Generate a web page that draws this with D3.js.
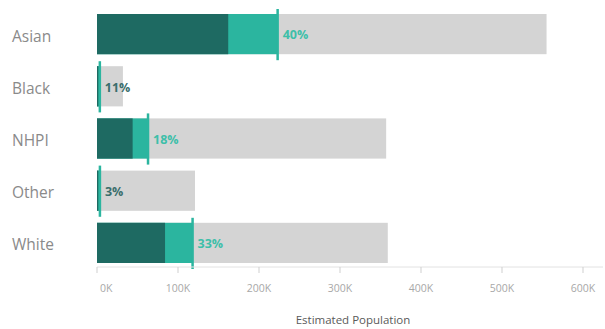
<!DOCTYPE html>
<html><head><meta charset="utf-8">
<script src="https://cdn.jsdelivr.net/npm/d3@7"></script>
<style>body{margin:0;background:#fff}svg{display:block}</style>
</head><body><svg id="c" width="605" height="329"></svg>
<script>
const categories = ["Asian","Black","NHPI","Other","White"];
const darkValues = [162000, 2000, 44000, 1000, 84000];
const tealValues = [223000, 3500, 63000, 3600, 118000];
const totalValues = [555000, 32000, 357000, 121000, 359000];
const pctLabels = ["40%","11%","18%","3%","33%"];
const ticks = [0,100000,200000,300000,400000,500000,600000];

const svg = d3.select("#c");
const x = d3.scaleLinear().domain([0,600000]).range([97,583]);
const y = d3.scaleBand().domain(categories).range([8,269]).paddingInner(0.23).paddingOuter(0.115);
const data = categories.map((c,i)=>({c,d:darkValues[i],t:tealValues[i],tot:totalValues[i],p:pctLabels[i]}));
const font = "'Open Sans', sans-serif";

svg.selectAll(".tot").data(data).join("rect").attr("x",x(0)).attr("y",d=>y(d.c))
  .attr("width",d=>x(d.tot)-x(0)).attr("height",y.bandwidth()).attr("fill","#d4d4d4");
svg.selectAll(".teal").data(data).join("rect").attr("x",x(0)).attr("y",d=>y(d.c))
  .attr("width",d=>x(d.t)-x(0)).attr("height",y.bandwidth()).attr("fill","#2bb59f");
svg.selectAll(".dark").data(data).join("rect").attr("x",x(0)).attr("y",d=>y(d.c))
  .attr("width",d=>Math.max(1.5,x(d.d)-x(0))).attr("height",y.bandwidth()).attr("fill","#1e6a62");
svg.selectAll(".mark").data(data).join("line").attr("x1",d=>x(d.t)).attr("x2",d=>x(d.t))
  .attr("y1",d=>y(d.c)-5).attr("y2",d=>y(d.c)+y.bandwidth()+6).attr("stroke","#2bb59f").attr("stroke-width",2.5);
svg.selectAll(".pl").data(data).join("text").attr("x",d=>x(d.t)+5).attr("y",d=>y(d.c)+y.bandwidth()/2+1)
  .attr("dy","0.35em").attr("font-family",font).attr("font-size",12.5).attr("font-weight",700)
  .attr("fill",d=>(d.c==="Black"||d.c==="Other")?"#3a6e6c":"#3dbfa9").text(d=>d.p);

svg.selectAll(".cl").data(data).join("text").attr("x",12).attr("y",d=>y(d.c)+y.bandwidth()/2+2)
  .attr("dy","0.35em").attr("font-family",font).attr("font-size",15.5).attr("fill","#8a8a8a").text(d=>d.c);

// axis
const ay = 267;
svg.append("line").attr("x1",x(0)).attr("x2",603).attr("y1",ay).attr("y2",ay).attr("stroke","#e2e2e2");
svg.selectAll(".tk").data(ticks).join("line").attr("x1",d=>x(d)).attr("x2",d=>x(d))
  .attr("y1",ay).attr("y2",ay+6).attr("stroke","#cfcfcf");
svg.selectAll(".tl").data(ticks).join("text").attr("x",d=>d===0?x(d)+3:x(d)).attr("y",ay+25)
  .attr("text-anchor",d=>d===0?"start":"middle").attr("font-family",font).attr("font-size",10.5).attr("fill","#a8a8a8")
  .text(d=>(d/1000)+"K");
svg.append("text").attr("x",353).attr("y",324).attr("text-anchor","middle").attr("font-family",font)
  .attr("font-size",11.5).attr("fill","#5a5a5a").text("Estimated Population");
</script></body></html>
